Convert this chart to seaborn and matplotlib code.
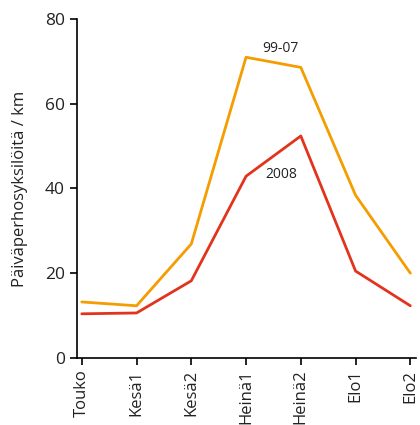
import matplotlib
matplotlib.use("Agg")
import matplotlib.pyplot as plt
import seaborn as sns
import pandas as pd

# Data
periods = ["Touko", "Kesä1", "Kesä2", "Heinä1", "Heinä2", "Elo1", "Elo2"]
avg_99_07 = [13.2, 12.3, 26.9, 71.0, 68.6, 38.4, 20.0]
year_2008 = [10.4, 10.6, 18.2, 42.9, 52.4, 20.5, 12.3]

sns.set_theme(style="ticks")
plt.rcParams["font.family"] = ["Open Sans", "DejaVu Sans"]

df = pd.DataFrame({
    "period": list(range(len(periods))) * 2,
    "value": avg_99_07 + year_2008,
    "series": ["99-07"] * len(periods) + ["2008"] * len(periods),
})

fig, ax = plt.subplots(figsize=(4.2, 4.25), dpi=100)
fig.subplots_adjust(left=0.183, right=0.99, bottom=0.158, top=0.955)

sns.lineplot(
    data=df, x="period", y="value", hue="series",
    palette={"99-07": "#F59D00", "2008": "#E2341D"},
    linewidth=2, legend=False, ax=ax,
)

ax.text(3.62, 73.1, "99-07", fontsize=10, ha="center", va="center", color="#222222")
ax.text(3.64, 43.2, "2008", fontsize=10, ha="center", va="center", color="#222222")

ax.set_xlim(-0.09, 6.1)
ax.set_ylim(0, 80)
ax.set_yticks([0, 20, 40, 60, 80])
ax.set_xticks(range(len(periods)))
ax.set_xticklabels(periods, rotation=90, fontsize=12, color="#222222")
ax.tick_params(axis="y", labelsize=12.5, labelcolor="#222222")
ax.tick_params(axis="both", direction="out", length=5, width=1.2, color="black")
ax.set_xlabel("")
ax.set_ylabel("Päiväperhosyksilöitä / km", fontsize=12, color="#222222", labelpad=12)
for s in ["left", "bottom"]:
    ax.spines[s].set_linewidth(1.2)
    ax.spines[s].set_color("black")
sns.despine(ax=ax)

plt.savefig("out.png", dpi=100)
